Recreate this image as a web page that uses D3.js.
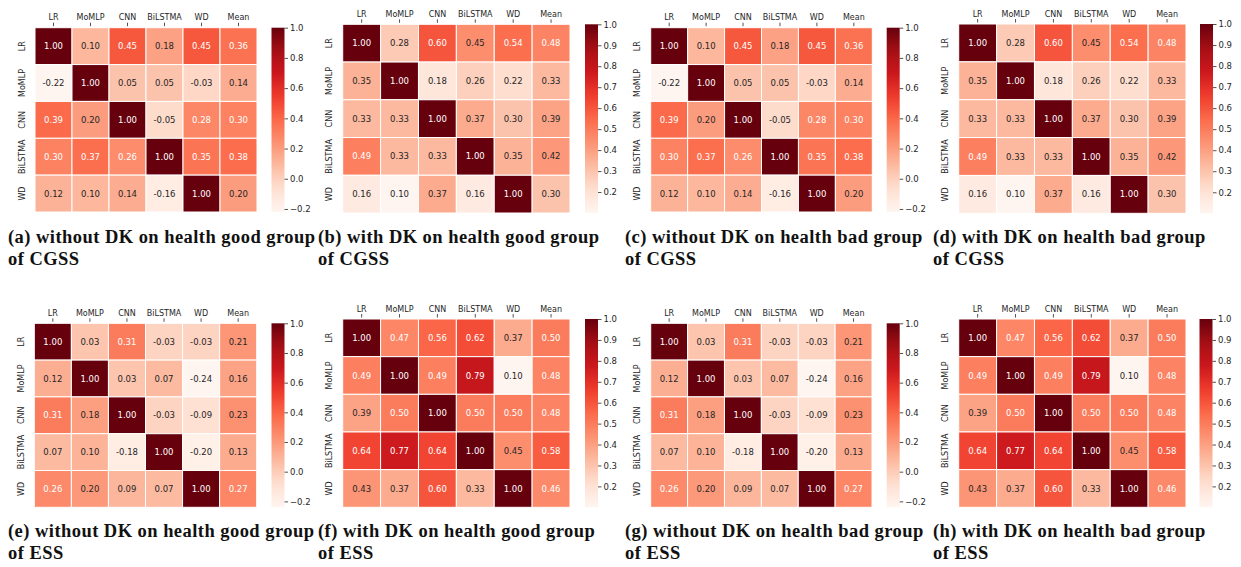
<!DOCTYPE html>
<html>
<head>
<meta charset="utf-8">
<script src="https://cdnjs.cloudflare.com/ajax/libs/d3/7.8.5/d3.min.js"></script>
<style>
    body { margin: 0; background: #fff; }
    svg { display: block; }
    .tick text { font-family: "DejaVu Sans", sans-serif; fill: #262626; }
    .caption { font-family: "Liberation Serif", serif; font-weight: bold; fill: #111; }
</style>
</head>
<body>
<div id="chart"></div>
<script>
/*
    Data
*/
var cols = ["LR", "MoMLP", "CNN", "BiLSTMA", "WD", "Mean"];
var rows = ["LR", "MoMLP", "CNN", "BiLSTMA", "WD"];

var cgssWithout = [
    [1.00, 0.10, 0.45, 0.18, 0.45, 0.36],
    [-0.22, 1.00, 0.05, 0.05, -0.03, 0.14],
    [0.39, 0.20, 1.00, -0.05, 0.28, 0.30],
    [0.30, 0.37, 0.26, 1.00, 0.35, 0.38],
    [0.12, 0.10, 0.14, -0.16, 1.00, 0.20]
];
var cgssWith = [
    [1.00, 0.28, 0.60, 0.45, 0.54, 0.48],
    [0.35, 1.00, 0.18, 0.26, 0.22, 0.33],
    [0.33, 0.33, 1.00, 0.37, 0.30, 0.39],
    [0.49, 0.33, 0.33, 1.00, 0.35, 0.42],
    [0.16, 0.10, 0.37, 0.16, 1.00, 0.30]
];
var essWithout = [
    [1.00, 0.03, 0.31, -0.03, -0.03, 0.21],
    [0.12, 1.00, 0.03, 0.07, -0.24, 0.16],
    [0.31, 0.18, 1.00, -0.03, -0.09, 0.23],
    [0.07, 0.10, -0.18, 1.00, -0.20, 0.13],
    [0.26, 0.20, 0.09, 0.07, 1.00, 0.27]
];
var essWith = [
    [1.00, 0.47, 0.56, 0.62, 0.37, 0.50],
    [0.49, 1.00, 0.49, 0.79, 0.10, 0.48],
    [0.39, 0.50, 1.00, 0.50, 0.50, 0.48],
    [0.64, 0.77, 0.64, 1.00, 0.45, 0.58],
    [0.43, 0.37, 0.60, 0.33, 1.00, 0.46]
];

/* colorbar tick values */
var ticksWithout = [-0.2, 0.0, 0.2, 0.4, 0.6, 0.8, 1.0];
var ticksWith = [0.2, 0.3, 0.4, 0.5, 0.6, 0.7, 0.8, 0.9, 1.0];

/* caption lines */
var captionsTop = [
    "(a) without DK on health good group",
    "(b) with DK on health good group",
    "(c) without DK on health bad group",
    "(d) with DK on health bad group"
];
var captionsBottom = [
    "(e) without DK on health good group",
    "(f) with DK on health good group",
    "(g) without DK on health bad group",
    "(h) with DK on health bad group"
];
var datasetTop = "of CGSS";
var datasetBottom = "of ESS";

/* matplotlib "Reds" colormap stops */
var reds = ["#fff5f0", "#fee0d2", "#fcbba1", "#fc9272", "#fb6a4a",
            "#ef3b2c", "#cb181d", "#a50f15", "#67000d"];

/*
    Panel placement (pixel boxes of the cell grids)
*/
var width = 1241;
var height = 567;

var panels = [
    { data: cgssWithout, ticks: ticksWithout, x0: 35,    x1: 257,   y0: 27.7,  y1: 212,   cb: 271.5, cx: 8,   cy: 243, cap: captionsTop[0],    sub: datasetTop },
    { data: cgssWith,    ticks: ticksWith,    x0: 342.7, x1: 570,   y0: 24.3,  y1: 213,   cb: 585,   cx: 318, cy: 243, cap: captionsTop[1],    sub: datasetTop },
    { data: cgssWithout, ticks: ticksWithout, x0: 650.7, x1: 872.3, y0: 27.7,  y1: 212,   cb: 886.7, cx: 625, cy: 243, cap: captionsTop[2],    sub: datasetTop },
    { data: cgssWith,    ticks: ticksWith,    x0: 958.7, x1: 1186,  y0: 24,    y1: 213.3, cb: 1200,  cx: 933, cy: 243, cap: captionsTop[3],    sub: datasetTop },
    { data: essWithout,  ticks: ticksWithout, x0: 34.3,  x1: 256.7, y0: 323.3, y1: 507.3, cb: 271.5, cx: 8,   cy: 537, cap: captionsBottom[0], sub: datasetBottom },
    { data: essWith,     ticks: ticksWith,    x0: 342.7, x1: 570,   y0: 319,   y1: 507.3, cb: 585,   cx: 318, cy: 537, cap: captionsBottom[1], sub: datasetBottom },
    { data: essWithout,  ticks: ticksWithout, x0: 650.7, x1: 872,   y0: 323.3, y1: 507.3, cb: 886.7, cx: 625, cy: 537, cap: captionsBottom[2], sub: datasetBottom },
    { data: essWith,     ticks: ticksWith,    x0: 958.7, x1: 1186,  y0: 319,   y1: 507.3, cb: 1199.5, cx: 933, cy: 537, cap: captionsBottom[3], sub: datasetBottom }
];

var svg = d3.select("#chart")
    .append("svg")
    .attr("width", width)
    .attr("height", height);

svg.append("rect")
    .attr("width", width)
    .attr("height", height)
    .attr("fill", "#fff");

var defs = svg.append("defs");

/*
    relative luminance, same rule seaborn uses to pick the
    annotation colour
*/
function luminance(c) {
    var rgb = d3.rgb(c);
    var lin = [rgb.r, rgb.g, rgb.b].map(function (v) {
        v = v / 255;
        return v <= 0.03928 ? v / 12.92 : Math.pow((v + 0.055) / 1.055, 2.4);
    });
    return 0.2126 * lin[0] + 0.7152 * lin[1] + 0.0722 * lin[2];
}

function drawPanel(p, idx) {
    var flat = [];
    p.data.forEach(function (row, i) {
        row.forEach(function (v, j) {
            flat.push({ r: rows[i], c: cols[j], v: v });
        });
    });

    var vmin = d3.min(flat, function (d) { return d.v; });
    var vmax = d3.max(flat, function (d) { return d.v; });

    var color = d3.scaleLinear()
        .domain(reds.map(function (d, i) { return vmin + (vmax - vmin) * i / (reds.length - 1); }))
        .range(reds)
        .interpolate(d3.interpolateRgb)
        .clamp(true);

    var x = d3.scaleBand().domain(cols).range([p.x0, p.x1]);
    var y = d3.scaleBand().domain(rows).range([p.y0, p.y1]);

    var g = svg.append("g");

    /* cells */
    g.selectAll(".cell")
        .data(flat)
        .enter().append("rect")
        .attr("class", "cell")
        .attr("x", function (d) { return x(d.c); })
        .attr("y", function (d) { return y(d.r); })
        .attr("width", x.bandwidth())
        .attr("height", y.bandwidth())
        .attr("fill", function (d) { return color(d.v); })
        .attr("stroke", "#fff")
        .attr("stroke-width", 1);

    /* annotations */
    g.selectAll(".annot")
        .data(flat)
        .enter().append("text")
        .attr("class", "annot")
        .attr("x", function (d) { return x(d.c) + x.bandwidth() / 2; })
        .attr("y", function (d) { return y(d.r) + y.bandwidth() / 2; })
        .attr("dy", "0.36em")
        .attr("text-anchor", "middle")
        .style("font-family", "DejaVu Sans, sans-serif")
        .style("font-size", "8.5px")
        .attr("fill", function (d) { return luminance(color(d.v)) < 0.408 ? "#fff" : "#262626"; })
        .text(function (d) { return d3.format(".2f")(d.v).replace("\u2212", "-"); });

    /* column labels on top */
    var xAxis = g.append("g")
        .attr("transform", "translate(0," + (p.y0 - 1.5) + ")")
        .call(d3.axisTop(x).tickSize(3.5).tickPadding(2.5));
    xAxis.select(".domain").remove();
    xAxis.selectAll(".tick line").attr("stroke", "#262626").attr("stroke-width", 0.8);
    xAxis.selectAll(".tick text").style("font-size", "8px");

    /* row labels, rotated */
    var yAxis = g.append("g")
        .attr("transform", "translate(" + (p.x0 - 10.5) + ",0)")
        .call(d3.axisLeft(y).tickSize(0).tickPadding(0));
    yAxis.select(".domain").remove();
    yAxis.selectAll(".tick text")
        .style("font-size", "8px")
        .attr("x", 0)
        .attr("dy", 0)
        .attr("text-anchor", "middle")
        .attr("transform", "rotate(-90)");

    /* colorbar */
    var gradId = "grad" + idx;
    var grad = defs.append("linearGradient")
        .attr("id", gradId)
        .attr("x1", 0).attr("y1", 1)
        .attr("x2", 0).attr("y2", 0);
    d3.range(0, 1.0001, 0.05).forEach(function (t) {
        grad.append("stop")
            .attr("offset", t)
            .attr("stop-color", color(vmin + (vmax - vmin) * t));
    });

    var cbScale = d3.scaleLinear().domain([vmin, vmax]).range([p.y1, p.y0]);
    var cbW = 13;

    g.append("rect")
        .attr("x", p.cb)
        .attr("y", p.y0)
        .attr("width", cbW)
        .attr("height", p.y1 - p.y0)
        .attr("fill", "url(#" + gradId + ")");

    var cbAxis = g.append("g")
        .attr("transform", "translate(" + (p.cb + cbW) + ",0)")
        .call(d3.axisRight(cbScale)
            .tickValues(p.ticks)
            .tickSize(3.5)
            .tickPadding(2)
            .tickFormat(function (d) { return d3.format(".1f")(d); }));
    cbAxis.select(".domain").remove();
    cbAxis.selectAll(".tick line").attr("stroke", "#262626").attr("stroke-width", 0.8);
    cbAxis.selectAll(".tick text").style("font-size", "8.5px");

    /* caption */
    var cap = svg.append("text")
        .attr("class", "caption")
        .attr("x", p.cx)
        .attr("y", p.cy)
        .style("font-size", "18.5px");
    cap.append("tspan").attr("x", p.cx).text(p.cap);
    cap.append("tspan").attr("x", p.cx).attr("dy", 22).text(p.sub);
}

panels.forEach(drawPanel);

/*
    Stretch caption letter spacing so the first line of (a)
    covers the same width as in the picture
*/
var firstCap = svg.select(".caption tspan").node();
var natural = firstCap.getComputedTextLength();
var spacing = (307 - natural) / (captionsTop[0].length - 1);
svg.selectAll(".caption").style("letter-spacing", spacing + "px");
</script>
</body>
</html>
